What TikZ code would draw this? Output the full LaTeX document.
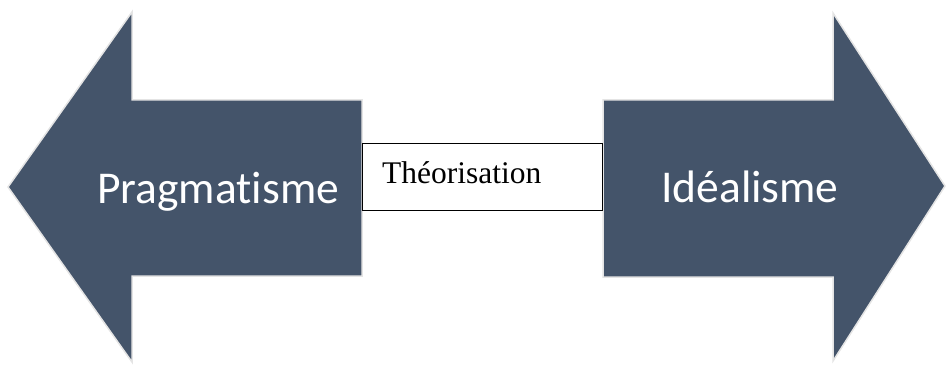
\documentclass[tikz,border=0pt]{standalone}
\usepackage{fontspec}
\setmainfont{Liberation Serif}
\newfontfamily\calib[Ligatures={NoCommon}]{Carlito}
\definecolor{arrowfill}{HTML}{44546A}
\definecolor{arrowedge}{HTML}{E4E4E4}
\begin{document}
\begin{tikzpicture}[x=1pt,y=1pt,
  bigarrow/.style={fill=arrowfill,draw=arrowedge,line width=1.5pt,line join=miter},
  arrowlabel/.style={anchor=base west,inner sep=0pt,text=white,font=\calib\fontsize{45.5}{52}\selectfont},
  boxlabel/.style={anchor=base west,inner sep=0pt,text=black,font=\fontsize{31.5}{36}\selectfont}]
\useasboundingbox (0,0) rectangle (946,365);
% left arrow
\draw[bigarrow] (8,178) -- (132,353) -- (132,265) -- (362,265) -- (362,89) -- (132,89) -- (132,3) -- cycle;
% right arrow
\draw[bigarrow] (603,265) -- (833,265) -- (833,352) -- (945,179) -- (833,4) -- (833,88) -- (603,88) -- cycle;
% middle box
\draw[black,line width=1pt] (362,155) rectangle (602,222);
\node[arrowlabel] (prag) at (97,162) {Pragmatisme};
\node[arrowlabel] (ideal) at (661,163) {Idéalisme};
\node[boxlabel] (theo) at (382,182) {Théorisation};
\end{tikzpicture}
\end{document}
